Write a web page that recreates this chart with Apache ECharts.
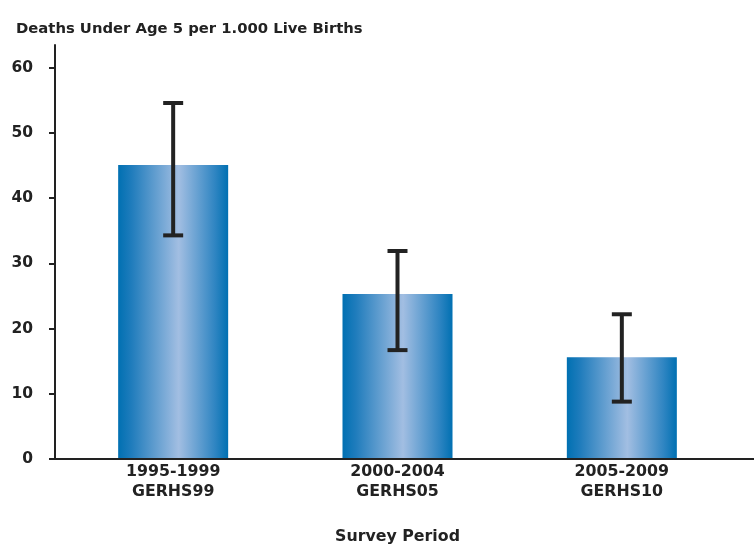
<!DOCTYPE html>
<html><head><meta charset="utf-8">
<script src="https://cdn.jsdelivr.net/npm/echarts@6/dist/echarts.min.js"></script>
<style>html,body{margin:0;padding:0;background:#fff}#c{width:754px;height:546px}</style>
</head><body><div id="c"></div>
<script>
const categories = ['1995-1999\nGERHS99', '2000-2004\nGERHS05', '2005-2009\nGERHS10'];
const values = [45.1, 25.3, 15.6];
const lower = [34.3, 16.7, 8.8];
const upper = [54.6, 31.9, 22.2];
const yTicks = [0, 10, 20, 30, 40, 50, 60];

const FONT = 'DejaVu Sans';
const chart = echarts.init(document.getElementById('c'));
const grad = new echarts.graphic.LinearGradient(0, 0, 1, 0, [
  {offset: 0, color: '#0070b2'},
  {offset: 0.12, color: '#1f7cbc'},
  {offset: 0.55, color: '#a2bee2'},
  {offset: 0.88, color: '#2f85c2'},
  {offset: 1, color: '#0070b2'}
]);
chart.setOption({
  animation: false,
  title: {text: 'Deaths Under Age 5 per 1.000 Live Births', left: 11, top: 17,
    textStyle: {fontFamily: FONT, fontWeight: 'bold', fontSize: 14.8, color: '#222'}},
  grid: {left: 61, right: 20, top: 45, bottom: 87, outerBoundsMode: 'none', containLabel: false},
  xAxis: {type: 'category', data: categories,
    axisLine: {show: false}, axisTick: {show: false},
    axisLabel: {fontFamily: FONT, fontWeight: 'bold', fontSize: 15.8, color: '#222', lineHeight: 20, margin: 3},
    name: 'Survey Period', nameLocation: 'middle', nameGap: 70,
    nameTextStyle: {fontFamily: FONT, fontWeight: 'bold', fontSize: 15.8, color: '#222'}},
  yAxis: {type: 'value', min: 0, max: 63.5, offset: 6,
    axisLine: {show: true, lineStyle: {color: '#222', width: 2}},
    axisTick: {show: true, length: 6, customValues: yTicks, lineStyle: {color: '#222', width: 2}},
    axisLabel: {customValues: yTicks, fontFamily: FONT, fontWeight: 'bold', fontSize: 15.5, color: '#222', margin: 22},
    splitLine: {show: false}},
  series: [
    {type: 'bar', data: values, barWidth: 110, itemStyle: {color: grad}},
    {type: 'custom', data: categories.map((c, i) => [i, lower[i], upper[i]]),
      renderItem: function (params, api) {
        const x = api.coord([api.value(0), 0])[0];
        const lo = api.coord([api.value(0), api.value(1)])[1];
        const hi = api.coord([api.value(0), api.value(2)])[1];
        const hw = 10;
        const st = {stroke: '#222', lineWidth: 4};
        return {type: 'group', children: [
          {type: 'line', shape: {x1: x, y1: hi, x2: x, y2: lo}, style: st},
          {type: 'line', shape: {x1: x - hw, y1: hi, x2: x + hw, y2: hi}, style: st},
          {type: 'line', shape: {x1: x - hw, y1: lo, x2: x + hw, y2: lo}, style: st}
        ]};
      }, z: 5}
  ]
});
const y0 = chart.convertToPixel({yAxisIndex: 0}, 0);
chart.setOption({graphic: [{type: 'line', shape: {x1: 54, y1: y0, x2: 754, y2: y0},
  style: {stroke: '#222', lineWidth: 2}, z: 10}]});
</script></body></html>
